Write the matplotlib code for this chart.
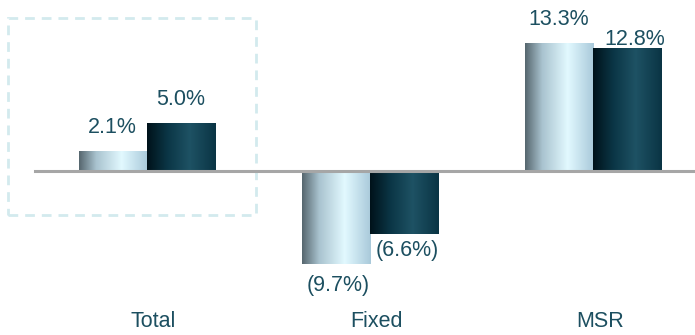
import matplotlib.pyplot as plt
import numpy as np
from matplotlib.colors import LinearSegmentedColormap
from matplotlib.patches import Rectangle

categories = ["Total", "Fixed", "MSR"]
series_a = [2.1, -9.7, 13.3]
series_b = [5.0, -6.6, 12.8]
labels_a = ["2.1%", "(9.7%)", "13.3%"]
labels_b = ["5.0%", "(6.6%)", "12.8%"]

text_color = "#1c4f60"
light_cmap = LinearSegmentedColormap.from_list(
    "light", [(0, "#56666e"), (0.25, "#a9c3cf"), (0.62, "#e2f9ff"), (1, "#a9c9da")])
dark_cmap = LinearSegmentedColormap.from_list(
    "dark", [(0, "#00121a"), (0.3, "#0b3646"), (0.62, "#1e5264"), (1, "#0a3444")])

plt.rcParams['font.family'] = ['Liberation Sans', 'DejaVu Sans']

fig = plt.figure(figsize=(6.95, 3.35), dpi=100)
ax = fig.add_axes([0, 0, 1, 1])
ax.axis("off")

x = np.arange(len(categories))
width = 0.305


def gradient_bars(bars, cmap):
    grad = np.linspace(0, 1, 256).reshape(1, -1)
    for b in bars:
        x0, y0 = b.get_x(), b.get_y()
        w, h = b.get_width(), b.get_height()
        im = ax.imshow(grad, cmap=cmap, aspect="auto",
                       extent=[x0, x0 + w, y0, y0 + h], zorder=2)
        im.set_clip_path(b)
        b.set_facecolor("none")


bars_a = ax.bar(x - width / 2, series_a, width, linewidth=0, zorder=2)
bars_b = ax.bar(x + width / 2, series_b, width, linewidth=0, zorder=2)
gradient_bars(bars_a, light_cmap)
gradient_bars(bars_b, dark_cmap)
ax.set_xlim(-0.659, 2.457)
ax.set_ylim(-17.1, 17.8)

ax.axhline(0, xmin=0.05, xmax=1, color="#a6a6a6", linewidth=2.2, zorder=3)

# value labels (offsets in pixels, hand tuned like the original)
offs_a = [(-1, 23), (2, -22), (0, 24)]
offs_b = [(0, 23), (3, -16), (8, 8)]
for i in range(len(categories)):
    for val, lab, off, dx in ((series_a[i], labels_a[i], offs_a[i], -width / 2),
                              (series_b[i], labels_b[i], offs_b[i], width / 2)):
        ax.annotate(lab, (x[i] + dx, val), xytext=off, textcoords="offset pixels",
                    ha="center", va="center", fontsize=15.5, color=text_color)

for i, c in enumerate(categories):
    ax.text(x[i] + 0.03, -15.7, c, ha="center", va="center", fontsize=15.5, color=text_color)

box = Rectangle((0.0115, 0.358), 0.357, 0.588, transform=ax.transAxes, fill=False,
                edgecolor="#d3eaee", linewidth=2, linestyle=(0, (3.5, 2.5)), zorder=1)
ax.add_patch(box)

fig.savefig("out.png", dpi=100)
